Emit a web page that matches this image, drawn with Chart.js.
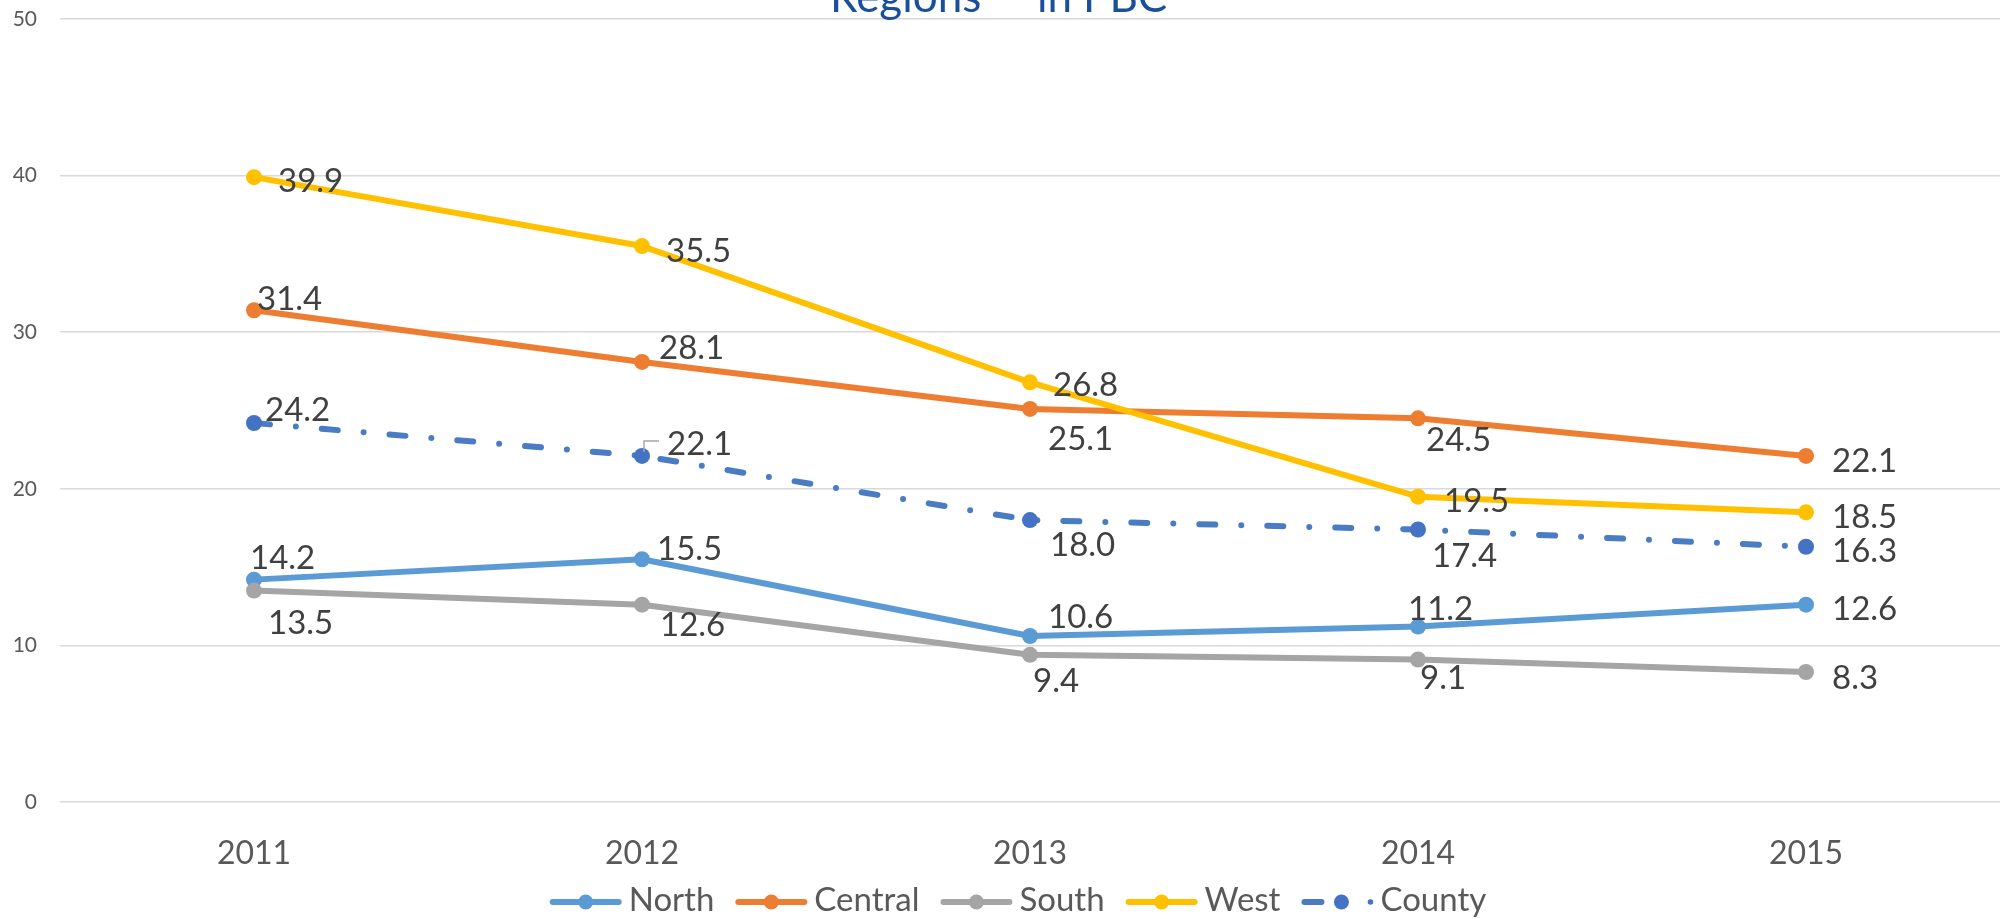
<!DOCTYPE html>
<html><head><meta charset="utf-8">
<script src="https://cdn.jsdelivr.net/npm/chart.js@4.4.1/dist/chart.umd.min.js"></script>
<style>html,body{margin:0;padding:0;background:#fff;overflow:hidden}#wrap{width:2000px;height:919px;position:relative}</style>
</head><body><div id="wrap"><canvas id="c"></canvas></div>
<script>
// ---- data ----
const categories = ['2011', '2012', '2013', '2014', '2015'];
const north   = [14.2, 15.5, 10.6, 11.2, 12.6];
const central = [31.4, 28.1, 25.1, 24.5, 22.1];
const south   = [13.5, 12.6, 9.4, 9.1, 8.3];
const west    = [39.9, 35.5, 26.8, 19.5, 18.5];
const county  = [24.2, 22.1, 18.0, 17.4, 16.3];
const yTicks  = [0, 10, 20, 30, 40, 50];
const seriesNames = ['North', 'Central', 'South', 'West', 'County'];
const titleParts = ['Regions"', 'in', 'PBC'];

// ---- styling (label placement offsets in px relative to each point) ----
const labelOffsets = {
  North:   [[-4, -21], [15, -10], [18, -19], [-10, -17], [26, 5]],
  Central: [[3, -11], [17, -14], [18, 30], [8, 22], [26, 5]],
  South:   [[14, 33], [18, 21], [3, 27], [2, 19], [26, 6]],
  West:    [[24, 4], [24, 5], [23, 3], [26, 5], [26, 5]],
  County:  [[11, -13], [25, -12], [20, 25], [14, 27], [26, 5]]
};
const leaderFlags = { County: [false, true, false, false, false] };
const colors = { North: '#5B9BD5', Central: '#ED7D31', South: '#A5A5A5', West: '#FFC000', County: '#4472C4' };
const FONT = 'Lato, "Open Sans", sans-serif';

function ds(name, values, order) {
  const c = colors[name];
  return {
    label: name, data: values, order: order,
    borderColor: name === 'County' ? '#4A7CC4' : c,
    backgroundColor: c, pointBackgroundColor: c, pointBorderColor: c,
    borderWidth: 6, pointRadius: 8, pointBorderWidth: 0, pointHoverRadius: 8,
    tension: 0, borderJoinStyle: 'round',
    borderCapStyle: name === 'County' ? 'round' : 'butt',
    borderDash: name === 'County' ? [16, 26, 0, 26] : []
  };
}

const dataLabelPlugin = {
  id: 'dataLabels',
  afterDatasetsDraw(chart) {
    const ctx = chart.ctx;
    ctx.save();
    ctx.font = '33px ' + FONT;
    ctx.fillStyle = '#404040';
    ctx.textAlign = 'left';
    ctx.textBaseline = 'middle';
    chart.data.datasets.forEach((d, i) => {
      const meta = chart.getDatasetMeta(i);
      meta.data.forEach((pt, j) => {
        const off = labelOffsets[d.label][j];
        const lx = pt.x + off[0], ly = pt.y + off[1];
        const lf = leaderFlags[d.label];
        if (lf && lf[j]) {
          ctx.save();
          ctx.strokeStyle = '#A6A6A6'; ctx.lineWidth = 1.5;
          ctx.beginPath();
          ctx.moveTo(pt.x + 2, pt.y - 4);
          ctx.lineTo(pt.x + 2, ly - 3);
          ctx.lineTo(lx - 8, ly - 3);
          ctx.stroke();
          ctx.restore();
        }
        ctx.fillText(d.data[j].toFixed(1), lx, ly);
      });
    });
    ctx.restore();
  }
};

const titleLegendPlugin = {
  id: 'titleLegend',
  afterDraw(chart) {
    const ctx = chart.ctx;
    ctx.save();
    // title (only its lower part is inside the picture)
    ctx.font = '44px ' + FONT;
    ctx.fillStyle = '#1A4F9C';
    ctx.textBaseline = 'alphabetic';
    ctx.textAlign = 'left';
    const tx = [830, 1037, 1083];
    titleParts.forEach((t, k) => ctx.fillText(t, tx[k], 11.5));

    // legend
    ctx.font = '33px ' + FONT;
    const sw = 72, gapText = 7, gapItem = 21, ly = 902;
    const widths = seriesNames.map(n => ctx.measureText(n).width);
    let total = 0;
    widths.forEach((w, k) => { total += sw + gapText + w + (k < widths.length - 1 ? gapItem : 0); });
    let x = 1018 - total / 2;
    seriesNames.forEach((n, k) => {
      const c = colors[n];
      ctx.strokeStyle = n === 'County' ? '#4A7CC4' : c;
      ctx.fillStyle = c;
      ctx.lineWidth = 6;
      ctx.lineCap = 'round';
      if (n === 'County') {
        ctx.beginPath(); ctx.moveTo(x + 3, ly); ctx.lineTo(x + 20, ly); ctx.stroke();
        ctx.beginPath(); ctx.arc(x + 40, ly, 7.5, 0, Math.PI * 2); ctx.fill();
        ctx.beginPath(); ctx.arc(x + 69, ly, 2.8, 0, Math.PI * 2); ctx.fill();
      } else {
        ctx.beginPath(); ctx.moveTo(x + 3, ly); ctx.lineTo(x + sw - 3, ly); ctx.stroke();
        ctx.beginPath(); ctx.arc(x + sw / 2, ly, 7.5, 0, Math.PI * 2); ctx.fill();
      }
      ctx.fillStyle = '#595959';
      ctx.textBaseline = 'middle';
      ctx.fillText(n, x + sw + gapText, ly - 2);
      x += sw + gapText + widths[k] + gapItem;
    });
    ctx.restore();
  }
};

new Chart(document.getElementById('c'), {
  type: 'line',
  data: {
    labels: categories,
    datasets: [
      ds('North', north, 4),
      ds('Central', central, 3),
      ds('South', south, 2),
      ds('West', west, 1),
      ds('County', county, 0)
    ]
  },
  options: {
    responsive: true, maintainAspectRatio: false, animation: false,
    layout: { padding: { top: 19, right: 0, bottom: 0, left: 0 }, autoPadding: false },
    plugins: { legend: { display: false }, title: { display: false }, tooltip: { enabled: false } },
    scales: {
      x: {
        offset: true,
        grid: { display: false, drawTicks: false },
        border: { display: false },
        ticks: { font: { family: FONT, size: 32 }, color: '#595959', padding: 32, maxRotation: 0, autoSkip: false },
        afterFit: s => { s.height = 117; }
      },
      y: {
        min: 0, max: 50,
        grid: { color: '#D9D9D9', lineWidth: 1.5, drawTicks: false },
        border: { display: false },
        ticks: { font: { family: FONT, size: 21 }, color: '#595959', padding: 23 },
        afterBuildTicks: s => { s.ticks = yTicks.map(v => ({ value: v })); },
        afterFit: s => { s.width = 60; s.paddingTop = 0; s.paddingBottom = 0; }
      }
    }
  },
  plugins: [dataLabelPlugin, titleLegendPlugin]
});
</script>
</body></html>
